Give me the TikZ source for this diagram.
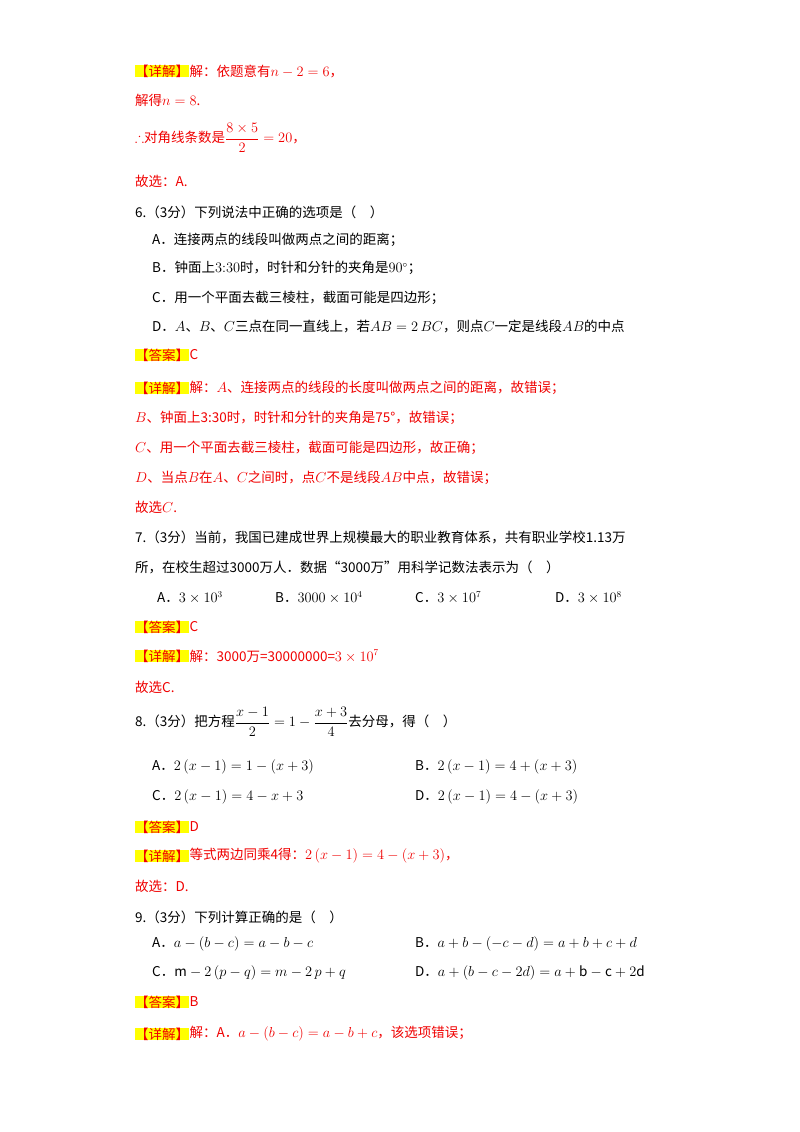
\documentclass[tikz,border=0pt]{standalone}
\usepackage{amsmath,amssymb}
\usepackage{fontspec}
\setmainfont{Noto Sans CJK SC}
\definecolor{ansred}{RGB}{240,0,0}
\definecolor{hl}{RGB}{255,255,0}
\tikzset{txt/.style={anchor=west,inner sep=0pt,font=\fontsize{13.5}{15}\selectfont},
 red/.style={txt,text=ansred},
 tag/.style={txt,text=ansred,fill=hl}}
\newcommand{\tagline}[4]{\node[tag] (#1t) at (135,#2) {【#3】}; \node[red] (#1) at (#1t.east) {#4};}
\begin{document}
\begin{tikzpicture}[x=1pt,y=-1pt]
\useasboundingbox (0,0) rectangle (800,1132);
\fill[white] (0,0) rectangle (800,1132);
\tagline{l1}{71}{详解}{解：依题意有$n-2=6$，}
\node[red] (l2) at (135,100) {解得$n=8$.};
\node[red] (l3) at (135,138) {$\therefore$对角线条数是$\dfrac{8\times5}{2}=20$，};
\node[red] (l4) at (135,181) {故选：A.};
\node[txt] (q6) at (135,212) {6.（3分）下列说法中正确的选项是（\quad ）};
\node[txt] (q6a) at (152,240) {A．连接两点的线段叫做两点之间的距离；};
\node[txt] (q6b) at (152,268) {B．钟面上$3{:}30$时，时针和分针的夹角是$90^\circ$；};
\node[txt] (q6c) at (152,298) {C．用一个平面去截三棱柱，截面可能是四边形；};
\node[txt] (q6d) at (152,327) {D．$A$、$B$、$C$三点在同一直线上，若$AB=2\,BC$，则点$C$一定是线段$AB$的中点};
\tagline{a6}{355}{答案}{C}
\tagline{d6}{388}{详解}{解：$A$、连接两点的线段的长度叫做两点之间的距离，故错误；}
\node[red] (d6b) at (135,418) {$B$、钟面上3:30时，时针和分针的夹角是75°，故错误；};
\node[red] (d6c) at (135,448) {$C$、用一个平面去截三棱柱，截面可能是四边形，故正确；};
\node[red] (d6d) at (135,478) {$D$、当点$B$在$A$、$C$之间时，点$C$不是线段$AB$中点，故错误；};
\node[red] (d6e) at (135,507) {故选$C$.};
\node[txt] (q7) at (135,537) {7.（3分）当前，我国已建成世界上规模最大的职业教育体系，共有职业学校1.13万};
\node[txt] (q7b) at (135,567) {所，在校生超过3000万人．数据“3000万”用科学记数法表示为（\quad ）};
\node[txt] (q7o1) at (157,598) {A．$3\times10^3$};
\node[txt] (q7o2) at (275,598) {B．$3000\times10^4$};
\node[txt] (q7o3) at (415,598) {C．$3\times10^7$};
\node[txt] (q7o4) at (555,598) {D．$3\times10^8$};
\tagline{a7}{627}{答案}{C}
\tagline{d7}{656}{详解}{解：3000万=30000000=$3\times10^7$}
\node[red] (d7b) at (135,687) {故选C.};
\node[txt] (q8) at (135,722) {8.（3分）把方程$\dfrac{x-1}{2}=1-\dfrac{x+3}{4}$去分母，得（\quad ）};
\node[txt] (q8a) at (152,767) {A．$2\left(x-1\right)=1-\left(x+3\right)$};
\node[txt] (q8b) at (415,767) {B．$2\left(x-1\right)=4+\left(x+3\right)$};
\node[txt] (q8c) at (152,797) {C．$2\left(x-1\right)=4-x+3$};
\node[txt] (q8d) at (415,797) {D．$2\left(x-1\right)=4-\left(x+3\right)$};
\tagline{a8}{827}{答案}{D}
\tagline{d8}{856}{详解}{等式两边同乘4得：$2\left(x-1\right)=4-\left(x+3\right)$，}
\node[red] (d8b) at (135,886) {故选：D.};
\node[txt] (q9) at (135,917) {9.（3分）下列计算正确的是（\quad ）};
\node[txt] (q9a) at (152,944) {A．$a-\left(b-c\right)=a-b-c$};
\node[txt] (q9b) at (415,944) {B．$a+b-\left(-c-d\right)=a+b+c+d$};
\node[txt] (q9c) at (152,973) {C．$\mathrm{m}-2\left(p-q\right)=m-2\,p+q$};
\node[txt] (q9d) at (415,973) {D．$a+\left(b-c-2d\right)=a+\mathrm{b}-\mathrm{c}+2\mathrm{d}$};
\tagline{a9}{1002}{答案}{B}
\tagline{d9}{1034}{详解}{解：A．$a-\left(b-c\right)=a-b+c$，该选项错误；}
\end{tikzpicture}
\end{document}
